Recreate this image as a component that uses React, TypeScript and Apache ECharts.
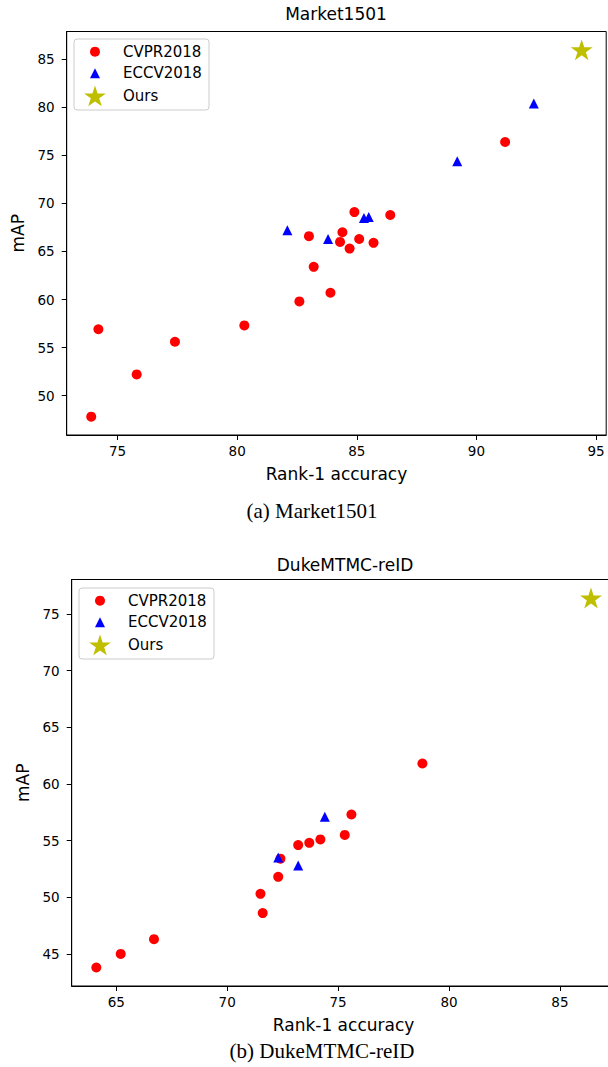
import React, { useEffect, useRef } from "react";
import * as echarts from "echarts";

// ---------- data ----------
const marketCVPR: number[][] = [
  [73.9, 47.8], [74.2, 56.9], [75.8, 52.2], [77.4, 55.6], [80.3, 57.3],
  [82.6, 59.8], [83.9, 60.7], [83.2, 63.4], [83.0, 66.6], [84.4, 67.0],
  [84.3, 66.0], [84.7, 65.3], [84.9, 69.1], [85.1, 66.3], [85.7, 65.9],
  [86.4, 68.8], [91.2, 76.4],
];
const marketECCV: number[][] = [
  [82.1, 67.2], [83.8, 66.3], [85.3, 68.5], [85.5, 68.6], [89.2, 74.4], [92.4, 80.4],
];
const marketOurs: number[][] = [[94.4, 86.0]];

const dukeCVPR: number[][] = [
  [64.1, 43.8], [65.2, 45.0], [66.7, 46.3], [71.5, 50.3], [71.6, 48.6],
  [72.3, 51.8], [72.4, 53.4], [73.2, 54.6], [73.7, 54.8], [74.2, 55.1],
  [75.3, 55.5], [75.6, 57.3], [78.8, 61.8],
];
const dukeECCV: number[][] = [[72.3, 53.5], [73.2, 52.8], [74.4, 57.1]];
const dukeOurs: number[][] = [[86.4, 76.4]];

const marketXTicks = [75, 80, 85, 90, 95];
const marketYTicks = [50, 55, 60, 65, 70, 75, 80, 85];
const dukeXTicks = [65, 70, 75, 80, 85];
const dukeYTicks = [45, 50, 55, 60, 65, 70, 75];
const marketXRange = [72.875, 95.425];
const marketYRange = [45.89, 87.91];
const dukeXRange = [62.99, 87.5];
const dukeYRange = [42.17, 78.03];

const legendNames = ["CVPR2018", "ECCV2018", "Ours"];
const titles = ["Market1501", "DukeMTMC-reID"];
const captions = ["(a) Market1501", "(b) DukeMTMC-reID"];
const xName = "Rank-1 accuracy";
const yName = "mAP";

// ---------- styling ----------
const RED = "#ff0000";
const BLUE = "#0000ff";
const OLIVE = "#bfbf00";
const SANS = "DejaVu Sans";
const SERIF = "Liberation Serif";

function starPoints(cx: number, cy: number, R: number): number[][] {
  const pts: number[][] = [];
  for (let i = 0; i < 10; i++) {
    const a = Math.PI / 2 + (i * Math.PI) / 5;
    const r = i % 2 === 0 ? R : R * 0.381966;
    pts.push([cx + r * Math.cos(a), cy - r * Math.sin(a)]);
  }
  return pts;
}
const starPath =
  "path://" +
  starPoints(0, 0, 100)
    .map((p, i) => (i === 0 ? "M" : "L") + p[0].toFixed(2) + "," + p[1].toFixed(2))
    .join(" ") +
  " Z";

function makeAxes(
  gridIndex: number,
  xr: number[],
  yr: number[],
  xt: number[],
  yt: number[]
) {
  const label = { fontFamily: SANS, fontSize: 13.5, color: "#000" };
  const tick = { show: true, inside: false, length: 5, lineStyle: { color: "#000", width: 1 } };
  const x = {
    type: "value",
    gridIndex,
    min: xr[0],
    max: xr[1],
    name: xName,
    nameLocation: "middle",
    nameGap: 30,
    nameTextStyle: { fontFamily: SANS, fontSize: 17, color: "#000" },
    axisLine: { show: true, onZero: false, lineStyle: { color: "#000", width: 1 } },
    axisTick: { ...tick, customValues: xt },
    axisLabel: { ...label, margin: 9, customValues: xt },
    splitLine: { show: false },
  };
  const y = {
    type: "value",
    gridIndex,
    min: yr[0],
    max: yr[1],
    name: yName,
    nameLocation: "middle",
    nameGap: 33,
    nameTextStyle: { fontFamily: SANS, fontSize: 17, color: "#000" },
    axisLine: { show: true, onZero: false, lineStyle: { color: "#000", width: 1 } },
    axisTick: { ...tick, customValues: yt },
    axisLabel: { ...label, margin: 12, customValues: yt },
    splitLine: { show: false },
  };
  return { x, y };
}

function makeSeries(idx: number, cvpr: number[][], eccv: number[][], ours: number[][]) {
  return [
    {
      type: "scatter", name: legendNames[0], xAxisIndex: idx, yAxisIndex: idx,
      data: cvpr, symbol: "circle", symbolSize: 10, itemStyle: { color: RED, opacity: 1 }, z: 2,
    },
    {
      type: "scatter", name: legendNames[1], xAxisIndex: idx, yAxisIndex: idx,
      data: eccv, symbol: "triangle", symbolSize: 10, itemStyle: { color: BLUE, opacity: 1 }, z: 3,
    },
    {
      type: "scatter", name: legendNames[2], xAxisIndex: idx, yAxisIndex: idx,
      data: ours, symbol: starPath, symbolKeepAspect: true, symbolSize: 22,
      itemStyle: { color: OLIVE, opacity: 1 }, z: 4,
    },
  ];
}

function legendBox(x: number, y: number): any {
  const mx = 21;
  const tx = 49;
  const rows = [12.7, 34.3, 57];
  return {
    type: "group",
    x,
    y,
    z: 100,
    children: [
      {
        type: "rect",
        shape: { x: 0, y: 0, width: 135, height: 71, r: 3 },
        style: { fill: "rgba(255,255,255,0.8)", stroke: "#cccccc", lineWidth: 1 },
      },
      { type: "circle", shape: { cx: mx, cy: rows[0], r: 5 }, style: { fill: RED } },
      {
        type: "polygon",
        shape: { points: [[mx, rows[1] - 5], [mx + 5, rows[1] + 5], [mx - 5, rows[1] + 5]] },
        style: { fill: BLUE },
      },
      {
        type: "polygon",
        shape: { points: starPoints(mx, rows[2] + 1, 11.5) },
        style: { fill: OLIVE },
      },
      ...legendNames.map((n, i) => ({
        type: "text",
        x: tx,
        y: rows[i],
        style: { text: n, fontFamily: SANS, fontSize: 15, fill: "#000", verticalAlign: "middle", align: "left" },
      })),
    ],
  };
}

function textEl(text: string, x: number, y: number, family: string, size: number) {
  return {
    type: "text",
    x,
    y,
    z: 100,
    style: { text, fontFamily: family, fontSize: size, fill: "#000", align: "center", verticalAlign: "middle" },
  };
}

export default function App() {
  const ref = useRef<HTMLDivElement>(null);
  useEffect(() => {
    if (!ref.current) return;
    const chart = echarts.init(ref.current, undefined, { renderer: "svg" });
    const a1 = makeAxes(0, marketXRange, marketYRange, marketXTicks, marketYTicks);
    const a2 = makeAxes(1, dukeXRange, dukeYRange, dukeXTicks, dukeYTicks);
    chart.setOption({
      animation: false,
      backgroundColor: "#ffffff",
      grid: [
        { left: 66.7, top: 31.5, width: 539.5, height: 403.5, show: true, borderColor: "#000", borderWidth: 1, backgroundColor: "transparent" },
        { left: 71.7, top: 579.5, width: 543.7, height: 406.5, show: true, borderColor: "#000", borderWidth: 1, backgroundColor: "transparent" },
      ],
      xAxis: [a1.x, a2.x],
      yAxis: [a1.y, a2.y],
      series: [
        ...makeSeries(0, marketCVPR, marketECCV, marketOurs),
        ...makeSeries(1, dukeCVPR, dukeECCV, dukeOurs),
      ],
      graphic: [
        textEl(titles[0], 336, 14, SANS, 17),
        textEl(titles[1], 345, 565, SANS, 17),
        textEl(captions[0], 312, 511, SERIF, 21),
        textEl(captions[1], 322, 1051, SERIF, 21),
        legendBox(74, 39),
        legendBox(79, 588),
      ],
    });
    return () => chart.dispose();
  }, []);
  return (
    <div style={{ position: "fixed", left: 0, top: 0, width: 608, height: 1067, overflow: "hidden", background: "#fff" }}>
      <div ref={ref} style={{ position: "absolute", left: 0, top: 0, width: 640, height: 1067 }} />
    </div>
  );
}
